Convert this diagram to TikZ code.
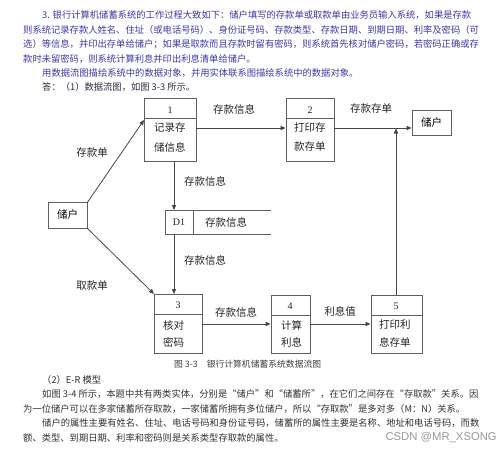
\documentclass[tikz,border=0pt]{standalone}
\usepackage{fontspec}
\setmainfont{Liberation Serif}
\newfontfamily\cjk{Noto Sans CJK SC}
\usetikzlibrary{arrows.meta}
\definecolor{txtblue}{RGB}{62,56,168}
\definecolor{txtdark}{RGB}{45,45,70}
\definecolor{linegray}{RGB}{70,70,70}
\definecolor{boxgray}{RGB}{95,95,95}
\tikzset{
  para/.style={anchor=west,inner sep=0pt,font=\cjk\fontsize{9.3}{10}\selectfont},
  procbox/.style={draw=boxgray,line width=0.9pt,inner sep=0pt},
  extbox/.style={draw=boxgray,line width=0.9pt,inner sep=0pt,font=\cjk\fontsize{10.5}{11}\selectfont},
  lbl/.style={inner sep=0pt,font=\cjk\fontsize{10.5}{11}\selectfont,text=black!85},
  btxt/.style={anchor=west,inner sep=0pt,font=\cjk\fontsize{10.5}{11}\selectfont,text=black!85},
  num/.style={inner sep=0pt,font=\fontsize{10}{11}\selectfont,text=black!85},
  flow/.style={draw=linegray,line width=0.8pt,-{Triangle[length=5pt,width=4.2pt]}},
  plain/.style={draw=boxgray,line width=0.9pt}
}
\begin{document}
\begin{tikzpicture}[x=1pt,y=-1pt]
\useasboundingbox (0,0) rectangle (500,453);
\fill[white] (0,0) rectangle (500,453);
% top paragraph
\node[para,text=txtblue] (t1) at (42,15) {3. 银行计算机储蓄系统的工作过程大致如下：储户填写的存款单或取款单由业务员输入系统，如果是存款};
\node[para,text=txtblue] (t2) at (23,30) {则系统记录存款人姓名、住址（或电话号码）、身份证号码、存款类型、存款日期、到期日期、利率及密码（可};
\node[para,text=txtblue] (t3) at (23,44.5) {选）等信息，并印出存单给储户；如果是取款而且存款时留有密码，则系统首先核对储户密码，若密码正确或存};
\node[para,text=txtblue] (t4) at (23,59) {款时未留密码，则系统计算利息并印出利息清单给储户。};
\node[para,text=txtblue] (t5) at (42,73) {用数据流图描绘系统中的数据对象，并用实体联系图描绘系统中的数据对象。};
\node[para,text=txtdark] (t6) at (42,87) {答：（1）数据流图，如图 3-3 所示。};
% process boxes
\node[procbox,minimum width=52pt,minimum height=63pt] (p1) at (170,129.5) {};
\node[procbox,minimum width=48pt,minimum height=63pt] (p2) at (310,129.5) {};
\node[procbox,minimum width=48pt,minimum height=59pt] (p3) at (178,323.5) {};
\node[procbox,minimum width=39pt,minimum height=58pt] (p4) at (290.5,324) {};
\node[procbox,minimum width=51pt,minimum height=58pt] (p5) at (396.5,324) {};
\draw[plain] (p1.west |- 0,118) -- (p1.east |- 0,118);
\draw[plain] (p2.west |- 0,118) -- (p2.east |- 0,118);
\draw[plain] (p3.west |- 0,314) -- (p3.east |- 0,314);
\draw[plain] (p4.west |- 0,315) -- (p4.east |- 0,315);
\draw[plain] (p5.west |- 0,315) -- (p5.east |- 0,315);
\node[num] (n1) at (170,110) {1};
\node[btxt] (b1a) at (154,128) {记录存};
\node[btxt] (b1b) at (154,147) {储信息};
\node[num] (n2) at (310,110) {2};
\node[btxt] (b2a) at (294,128) {打印存};
\node[btxt] (b2b) at (294,147) {款存单};
\node[num] (n3) at (178,305) {3};
\node[btxt] (b3a) at (163,325) {核对};
\node[btxt] (b3b) at (163,342) {密码};
\node[num] (n4) at (290,306) {4};
\node[btxt] (b4a) at (281,325) {计算};
\node[btxt] (b4b) at (281,342) {利息};
\node[num] (n5) at (396,306) {5};
\node[btxt] (b5a) at (379,325) {打印利};
\node[btxt] (b5b) at (379,342) {息存单};
% external entities
\node[extbox,minimum width=39pt,minimum height=26pt] (e1) at (67.5,215) {储户};
\node[extbox,minimum width=39pt,minimum height=25pt] (e2) at (431.5,122.5) {储户};
% data store D1
\coordinate (d1tl) at (165,210);
\coordinate (d1bl) at (165,234);
\coordinate (d1tr) at (271,210);
\coordinate (d1br) at (271,234);
\draw[plain] (d1tr) -- (d1tl) -- (d1bl) -- (d1br);
\draw[plain] (193,210) -- (193,234);
\node[num] (dn) at (179,222) {D1};
\node[lbl] (dl) at (226,222) {存款信息};
% connectors
\coordinate (a1) at (87,203);
\coordinate (a1e) at (144,120);
\coordinate (a2) at (87,228);
\coordinate (a2e) at (154,294);
\draw[flow] (a1) -- (a1e);
\draw[flow] (a2) -- (a2e);
\draw[flow] (p1.east |- 0,128) -- (p2.west |- 0,128);
\draw[flow] (p2.east |- 0,128) -- (e2.west |- 0,128);
\draw[flow] (174,161) -- (174,210);
\draw[flow] (174,234) -- (174,294);
\draw[flow] (p3.east |- 0,324) -- (p4.west |- 0,324);
\draw[flow] (p4.east |- 0,324) -- (p5.west |- 0,324);
\draw[flow] (p5.north -| 396,0) -- (396,128.5);
% labels
\node[lbl] (l1) at (234,109) {存款信息};
\node[lbl] (l2) at (371,109) {存款存单};
\node[lbl] (l3) at (92,153) {存款单};
\node[lbl] (l4) at (92,286) {取款单};
\node[lbl] (l5) at (205,181) {存款信息};
\node[lbl] (l6) at (205,260) {存款信息};
\node[lbl] (l7) at (236,312) {存款信息};
\node[lbl] (l8) at (340,311) {利息值};
% caption
\node[anchor=west,inner sep=0pt,text=black!75,font=\cjk\fontsize{8.8}{10}\selectfont] (cap) at (174,364) {图 3-3\hspace{9pt}银行计算机储蓄系统数据流图};
% bottom paragraph
\node[para,text=black!80] (u1) at (42,380) {（2）E-R 模型};
\node[para,text=black!80] (u2) at (42,394.5) {如图 3-4 所示，本题中共有两类实体，分别是“储户”和“储蓄所”，在它们之间存在“存取款”关系。因};
\node[para,text=black!80] (u3) at (23,409) {为一位储户可以在多家储蓄所存取款，一家储蓄所拥有多位储户，所以“存取款”是多对多（M：N）关系。};
\node[para,text=black!80] (u4) at (42,423.5) {储户的属性主要有姓名、住址、电话号码和身份证号码，储蓄所的属性主要是名称、地址和电话号码，而数};
\node[para,text=black!80] (u5) at (23,438) {额、类型、到期日期、利率和密码则是关系类型存取款的属性。};
\node[anchor=east,inner sep=0pt,text=black!40,font=\fontspec{Liberation Sans}\fontsize{11.3}{12}\selectfont] (wm) at (497,438) {CSDN @MR\_XSONG};
\end{tikzpicture}
\end{document}
